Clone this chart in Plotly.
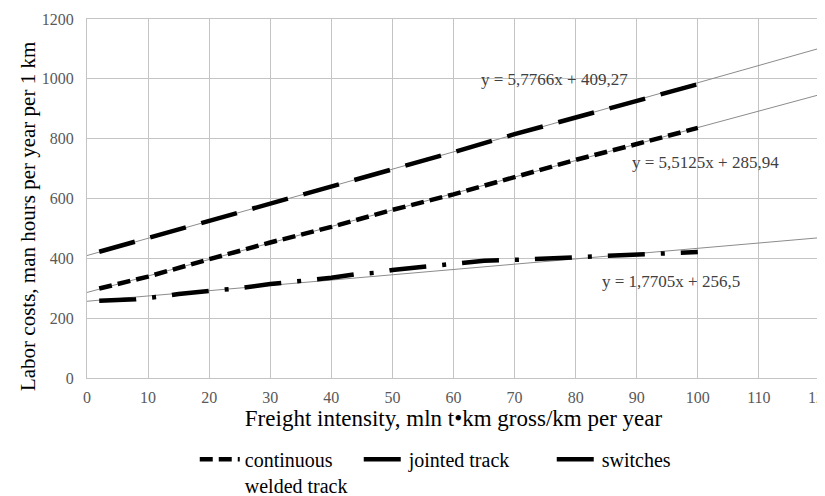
import plotly.graph_objects as go

# ---- data ----
x_vals = [2, 10, 20, 30, 40, 50, 60, 70, 80, 90, 100]
jointed = [422, 468, 523, 581, 639, 699, 755, 815, 871, 928, 982]
continuous = [299, 339, 397, 453, 505, 562, 614, 672, 729, 782, 836]
sw_x = [2, 8, 12, 15, 20, 24, 30, 36, 40, 44, 48, 50, 55, 60, 65, 70, 75, 80, 85, 90, 96, 100]
switches = [258, 263, 272, 281, 291, 298, 314, 325, 335, 347, 353, 361, 372, 380, 392, 395, 399, 403, 409, 414, 419, 421]

trend_x = [0, 120]
trend_jointed = [409.27, 409.27 + 5.7766 * 120]
trend_continuous = [285.94, 285.94 + 5.5125 * 120]
trend_switches = [256.5, 256.5 + 1.7705 * 120]

eq_labels = ["y = 5,7766x + 409,27", "y = 5,5125x + 285,94", "y = 1,7705x + 256,5"]
eq_x = [76.6, 101.3, 95.6]
eq_y = [997, 720, 322]

x_ticks = list(range(0, 121, 10))
y_ticks = list(range(0, 1201, 200))

x_title = "Freight intensity, mln t•km gross/km per year"
y_title = "Labor costs, man hours per year per 1 km"

FONT = "Liberation Serif, Times New Roman, serif"

fig = go.Figure()

# trendlines (thin gray)
for ty in (trend_jointed, trend_continuous, trend_switches):
    fig.add_trace(go.Scatter(x=trend_x, y=ty, mode="lines",
                             line=dict(color="#8c8c8c", width=1),
                             showlegend=False, hoverinfo="skip"))

fig.add_trace(go.Scatter(x=x_vals, y=continuous, mode="lines",
                         name="continuous<br>welded track", legendwidth=109,
                         line=dict(color="black", width=4.5, dash="13px,6px")))
fig.add_trace(go.Scatter(x=x_vals, y=jointed, mode="lines",
                         name="jointed track", legendwidth=138,
                         line=dict(color="black", width=4.5, dash="37px,16px")))
fig.add_trace(go.Scatter(x=sw_x, y=switches, mode="lines",
                         name="switches",
                         line=dict(color="black", width=4.5, dash="37px,16px,4px,16px")))

for t, xx, yy in zip(eq_labels, eq_x, eq_y):
    fig.add_annotation(x=xx, y=yy, text=t, showarrow=False,
                       font=dict(family=FONT, size=17, color="#404040"))

# y-axis title (placed like the original, slightly below the plot centre)
fig.add_annotation(xref="paper", yref="paper", x=-0.0805, y=0.451,
                   xanchor="center", yanchor="middle", textangle=-90,
                   text=y_title, showarrow=False,
                   font=dict(family=FONT, size=21, color="black"))

# page body has an 8px margin, so the figure is shifted by (8, 8)
fig.update_layout(
    width=817, height=488,
    margin=dict(l=79, r=5, t=11, b=118, autoexpand=False),
    paper_bgcolor="white", plot_bgcolor="white",
    font=dict(family=FONT, color="black"),
    legend=dict(orientation="h", x=0.147, xanchor="left", y=-0.172, yanchor="top",
                font=dict(family=FONT, size=20, color="black"), valign="top",
                itemwidth=40, tracegroupgap=0),
)
fig.update_xaxes(range=[0, 120], tickvals=x_ticks, ticklabeloverflow="allow",
                 automargin=False,
                 showgrid=True, gridcolor="#c4c4c4", gridwidth=1,
                 showline=True, linecolor="#c4c4c4", mirror=True,
                 zeroline=False, ticks="", ticklabelstandoff=5,
                 tickfont=dict(family=FONT, size=16, color="#595959"),
                 title=dict(text=x_title,
                            font=dict(family=FONT, size=23, color="black"), standoff=0))
fig.update_yaxes(range=[0, 1200], tickvals=y_ticks, automargin=False,
                 showgrid=True, gridcolor="#c4c4c4", gridwidth=1,
                 showline=True, linecolor="#c4c4c4", mirror=True,
                 zeroline=False, ticks="", ticklabelstandoff=9,
                 tickfont=dict(family=FONT, size=16, color="#595959"))

fig.write_html("out.html")
